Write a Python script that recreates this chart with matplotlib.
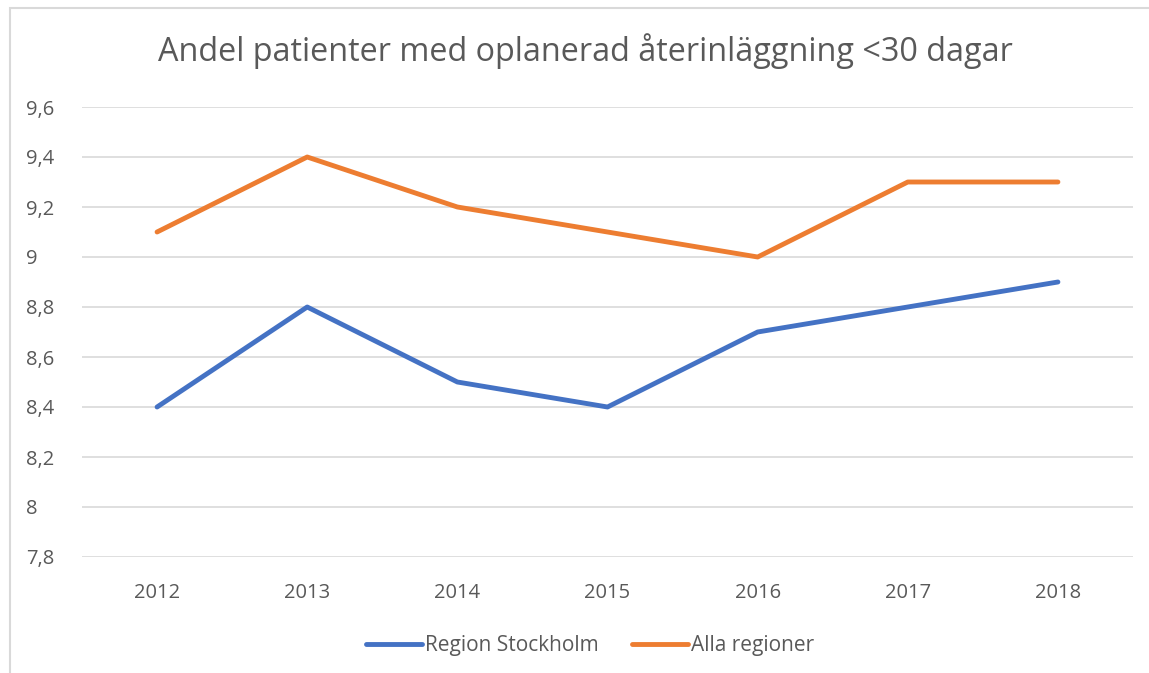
import matplotlib.pyplot as plt
from matplotlib.patches import Rectangle

years = ['2012', '2013', '2014', '2015', '2016', '2017', '2018']
stockholm = [8.4, 8.8, 8.5, 8.4, 8.7, 8.8, 8.9]
alla = [9.1, 9.4, 9.2, 9.1, 9.0, 9.3, 9.3]
yticks = [7.8, 8.0, 8.2, 8.4, 8.6, 8.8, 9.0, 9.2, 9.4, 9.6]

plt.rcParams['font.family'] = ['Open Sans', 'DejaVu Sans']

fig = plt.figure(figsize=(11.49, 6.73), dpi=100)
ax = fig.add_axes([82 / 1149, 1 - 557 / 673, (1133 - 82) / 1149, (557 - 107) / 673])

# outer chart frame (only left/top visible in the original)
fig.patches.append(Rectangle((10 / 1149, -0.1), 1.2, 1 - 8 / 673 + 0.1,
                             transform=fig.transFigure, fill=False,
                             edgecolor='#d9d9d9', linewidth=1.5))

x = range(len(years))
ax.plot(x, stockholm, color='#4472C4', linewidth=3.5, solid_capstyle='round',
        solid_joinstyle='round', label='Region Stockholm')
ax.plot(x, alla, color='#ED7D31', linewidth=3.5, solid_capstyle='round',
        solid_joinstyle='round', label='Alla regioner')

ax.set_xlim(-0.5, 6.5)
ax.set_ylim(7.8, 9.6)
ax.set_xticks(list(x))
ax.set_xticklabels(years)
ax.set_yticks(yticks)
ax.set_yticklabels([f'{v:g}'.replace('.', ',') for v in yticks])
ax.grid(axis='y', color='#d9d9d9', linewidth=1.2)
ax.set_axisbelow(True)
for s in ax.spines.values():
    s.set_visible(False)
ax.tick_params(length=0, labelsize=14.5, colors='#595959')
ax.tick_params(axis='x', pad=18.5)
ax.yaxis.set_tick_params(pad=40)
for lab in ax.get_yticklabels():
    lab.set_horizontalalignment('left')

fig.text(585 / 1149, 1 - 51 / 673, 'Andel patienter med oplanerad återinläggning <30 dagar',
         ha='center', va='center', fontsize=23.3, color='#595959')

fig.legend(loc='center', bbox_to_anchor=(590 / 1149, 1 - 646 / 673), ncol=2, frameon=False,
           fontsize=15, labelcolor='#595959', handlelength=2.7, handletextpad=0.15,
           columnspacing=1.6)

fig.savefig('out.png', dpi=100)
